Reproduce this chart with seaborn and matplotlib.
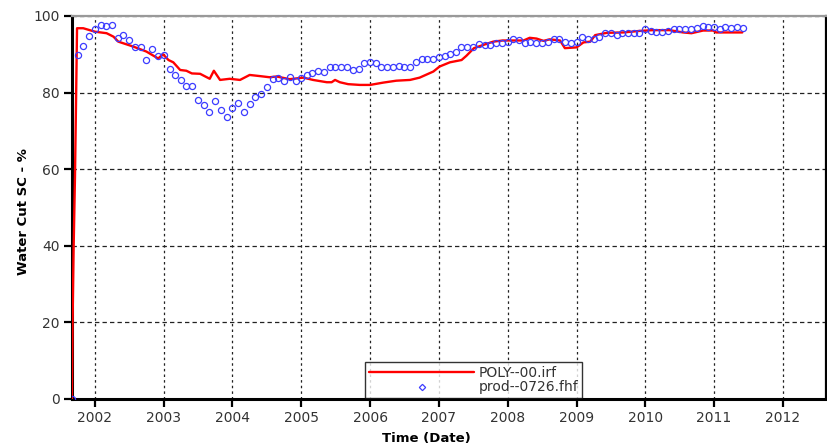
import numpy as np
import pandas as pd
import matplotlib
matplotlib.use("Agg")
import matplotlib.pyplot as plt
import matplotlib.dates as mdates
from matplotlib.lines import Line2D
import seaborn as sns

# ---- data ----
sim_label = "POLY--00.irf"
obs_label = "prod--0726.fhf"

sim_years = [2001.665, 2001.675, 2001.69, 2001.71, 2001.725, 2001.74, 2001.83,
             2002.0, 2002.17, 2002.27, 2002.34, 2002.56, 2002.75, 2002.92, 2002.99,
             2003.07, 2003.14, 2003.24, 2003.33, 2003.41, 2003.53, 2003.67, 2003.73,
             2003.82, 2003.96, 2004.11, 2004.25, 2004.4, 2004.54, 2004.64, 2004.83,
             2005.03, 2005.17, 2005.37, 2005.44, 2005.49, 2005.56, 2005.68, 2005.85,
             2006.0, 2006.19, 2006.38, 2006.58, 2006.72, 2006.92, 2007.01, 2007.16,
             2007.33, 2007.4, 2007.51, 2007.64, 2007.79, 2007.93, 2008.03, 2008.23,
             2008.32, 2008.42, 2008.52, 2008.61, 2008.76, 2008.83, 2009.0, 2009.1,
             2009.2, 2009.27, 2009.44, 2009.68, 2009.92, 2010.11, 2010.35, 2010.55,
             2010.67, 2010.84, 2010.99, 2011.03, 2011.41]
sim_wcut = [0, 20, 39, 58, 77, 96.8, 96.8, 95.9, 95.5, 94.6, 93.3, 92.0, 90.7, 88.9,
            90.0, 88.5, 87.9, 85.9, 85.7, 85.0, 84.9, 83.6, 85.7, 83.3, 83.6, 83.3,
            84.6, 84.3, 84.0, 84.2, 83.5, 83.9, 83.3, 82.7, 82.7, 83.3, 82.7, 82.2,
            82.0, 82.0, 82.6, 83.1, 83.3, 83.9, 85.5, 86.8, 87.9, 88.5, 89.6, 91.6,
            92.4, 93.3, 93.6, 93.6, 93.6, 94.3, 94.1, 93.5, 93.9, 93.6, 91.6, 91.8,
            93.1, 93.3, 95.0, 95.6, 95.7, 96.1, 96.3, 96.3, 95.7, 95.5, 96.2, 96.2,
            95.7, 95.7]

obs_first_month = "2001-09-01"
obs_wcut = [0, 89.8, 92.1, 94.8, 96.7, 97.7, 97.4, 97.7, 94.3, 95.1,
            93.8, 92.0, 91.8, 88.4, 91.3, 89.6, 89.7, 86.2, 84.5, 83.3,
            81.6, 81.6, 78.1, 76.7, 74.8, 77.7, 75.4, 73.5, 76.1, 77.4,
            74.9, 77.1, 78.8, 79.6, 81.4, 83.5, 83.7, 83.0, 84.0, 82.9,
            83.7, 84.6, 85.2, 85.7, 85.5, 86.8, 86.8, 86.8, 86.7, 85.9,
            86.2, 87.6, 88.1, 87.8, 86.6, 86.8, 86.6, 87.0, 86.6, 86.7,
            88.1, 88.7, 88.8, 88.8, 89.4, 89.6, 90.0, 90.7, 91.8, 91.8,
            92.0, 92.7, 92.4, 92.4, 92.9, 92.9, 93.3, 94.0, 93.7, 92.9,
            93.3, 92.9, 92.9, 93.3, 94.1, 94.0, 93.1, 92.9, 93.1, 94.6,
            94.1, 94.1, 94.6, 95.5, 95.5, 95.0, 95.5, 95.5, 95.5, 95.5,
            96.5, 96.2, 95.8, 95.8, 96.2, 96.5, 96.5, 96.7, 96.7, 96.9,
            97.4, 97.2, 97.0, 96.7, 97.0, 96.9, 97.0, 96.8]

y_ticks = [0, 20, 40, 60, 80, 100]


def year_to_date(y):
    yr = int(np.floor(y))
    start = pd.Timestamp(yr, 1, 1)
    end = pd.Timestamp(yr + 1, 1, 1)
    return start + (end - start) * (y - yr)


sim_df = pd.DataFrame({"date": [year_to_date(v) for v in sim_years],
                       "wcut": sim_wcut})
obs_df = pd.DataFrame({"date": pd.date_range(obs_first_month, periods=len(obs_wcut), freq="MS"),
                       "wcut": obs_wcut})

sns.set_style("white")
plt.rcParams["font.family"] = ["DejaVu Sans"]

RED = "#ff0000"
BLUE = "#3c3cff"

fig = plt.figure(figsize=(8.27, 4.45), dpi=100)
ax = fig.add_axes([0.087, 0.1034, 0.9118, 0.8607])

sns.lineplot(data=sim_df, x="date", y="wcut", ax=ax, color=RED, linewidth=1.7,
             estimator=None, sort=False, legend=False, zorder=3)
sns.lineplot(data=obs_df, x="date", y="wcut", ax=ax, linestyle="", marker="o",
             markersize=4.4, markerfacecolor="none", markeredgecolor=BLUE,
             markeredgewidth=0.9, estimator=None, sort=False, legend=False, zorder=4)

ax.set_xlim(year_to_date(2001.666), year_to_date(2012.626))
ax.set_ylim(0, 100)
ax.set_yticks(y_ticks)
ax.xaxis.set_major_locator(mdates.YearLocator())
ax.xaxis.set_major_formatter(mdates.DateFormatter("%Y"))

ax.set_axisbelow(True)
ax.xaxis.grid(True, color="#222222", linestyle=(0, (2, 2.5)), linewidth=0.9)
ax.yaxis.grid(True, color="#222222", linestyle=(0, (3.5, 2.5)), linewidth=0.9)

for side, col, lw in [("left", "black", 2.2), ("bottom", "black", 2.2),
                      ("top", "#999999", 1.6), ("right", "black", 1.6)]:
    ax.spines[side].set_visible(True)
    ax.spines[side].set_color(col)
    ax.spines[side].set_linewidth(lw)

ax.tick_params(axis="both", which="major", direction="out", length=6, width=1.6,
               color="black", labelsize=10, labelcolor="#333333", pad=3,
               bottom=True, left=True, top=False, right=False)

ax.set_xlabel("Time (Date)", fontsize=9.5, fontweight="bold", color="black")
ax.set_ylabel("Water Cut SC - %", fontsize=9.5, fontweight="bold", color="black")
ax.xaxis.set_label_coords(0.47, -0.085)
ax.yaxis.set_label_coords(-0.056, 0.49)

handles = [Line2D([], [], color=RED, linewidth=1.7),
           Line2D([], [], linestyle="", marker="D", markersize=3.2,
                  markerfacecolor="none", markeredgecolor=BLUE, markeredgewidth=0.9)]
leg = ax.legend(handles, [sim_label, obs_label], loc="lower left",
                bbox_to_anchor=(0.389, 0.003), fontsize=10, handlelength=7.6,
                handletextpad=0.3, labelspacing=0.05, borderpad=0.25,
                borderaxespad=0, frameon=True, fancybox=False)
leg.get_frame().set_edgecolor("black")
leg.get_frame().set_linewidth(1.0)
for t in leg.get_texts():
    t.set_color("#333333")

fig.savefig("out.png", dpi=100)
